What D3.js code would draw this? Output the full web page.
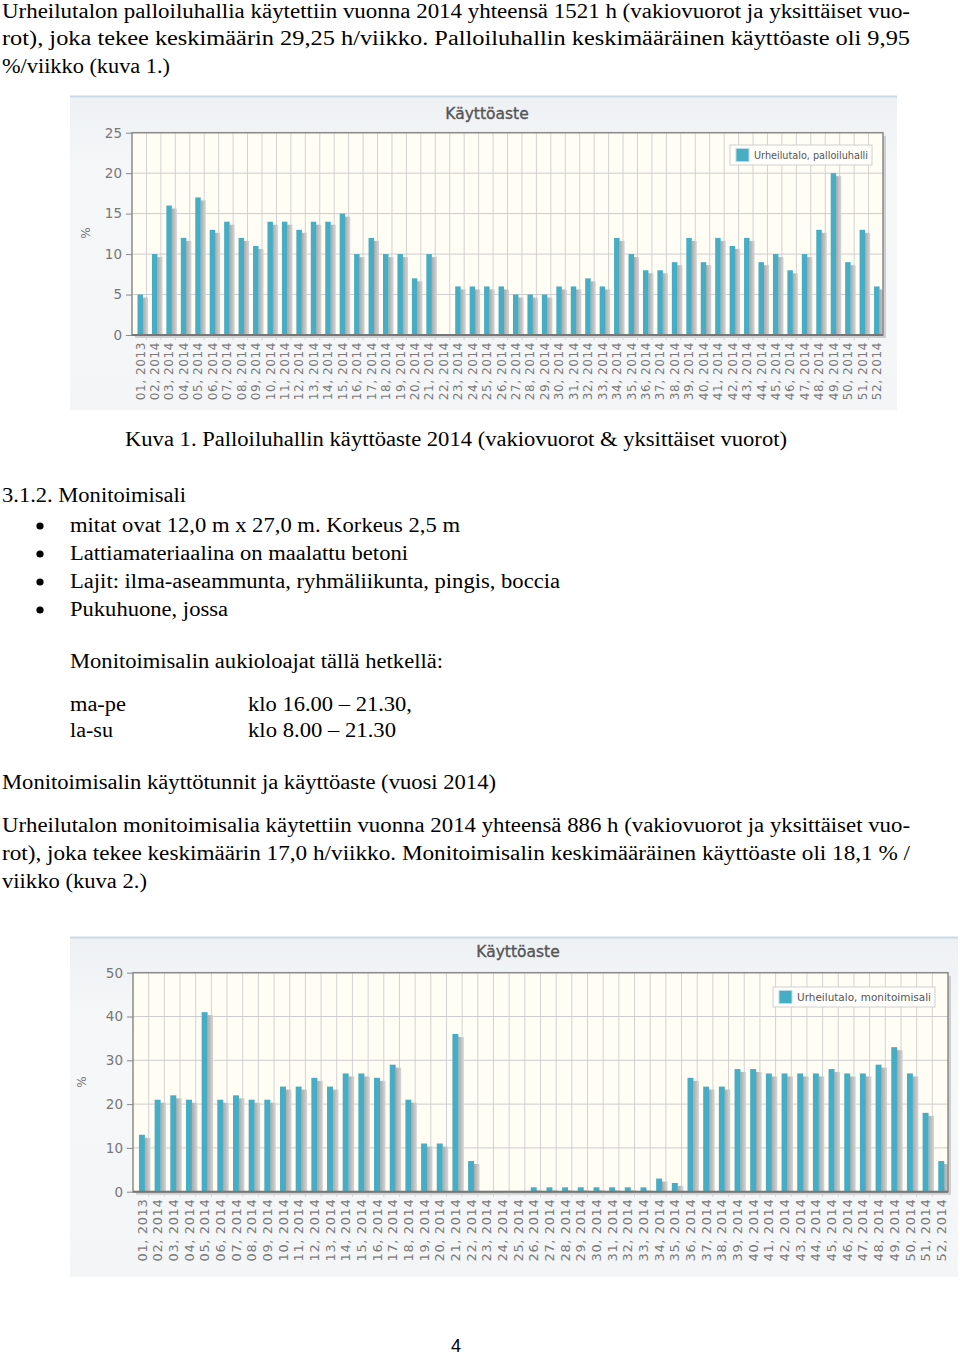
<!DOCTYPE html>
<html>
<head>
<meta charset="utf-8">
<script src="https://cdn.jsdelivr.net/npm/d3@7"></script>
<style>
  body { margin: 0; background: #fff; }
  svg { display: block; }
</style>
</head>
<body>
<div id="page"></div>
<script>
// week labels shared by both charts
let weekLabels = ["01, 2013", "02, 2014", "03, 2014", "04, 2014", "05, 2014", "06, 2014", "07, 2014",
	"08, 2014", "09, 2014", "10, 2014", "11, 2014", "12, 2014", "13, 2014", "14, 2014", "15, 2014",
	"16, 2014", "17, 2014", "18, 2014", "19, 2014", "20, 2014", "21, 2014", "22, 2014", "23, 2014",
	"24, 2014", "25, 2014", "26, 2014", "27, 2014", "28, 2014", "29, 2014", "30, 2014", "31, 2014",
	"32, 2014", "33, 2014", "34, 2014", "35, 2014", "36, 2014", "37, 2014", "38, 2014", "39, 2014",
	"40, 2014", "41, 2014", "42, 2014", "43, 2014", "44, 2014", "45, 2014", "46, 2014", "47, 2014",
	"48, 2014", "49, 2014", "50, 2014", "51, 2014", "52, 2014"];

// käyttöaste % per week
let palloiluhalli = [5, 10, 16, 12, 17, 13, 14, 12, 11, 14, 14, 13, 14, 14, 15, 10, 12, 10, 10, 7,
	10, 0, 6, 6, 6, 6, 5, 5, 5, 6, 6, 7, 6, 12, 10, 8, 8, 9, 12, 9, 12, 11, 12, 9, 10, 8, 10, 13, 20, 9, 13, 6];
let monitoimisali = [13, 21, 22, 21, 41, 21, 22, 21, 21, 24, 24, 26, 24, 27, 27, 26, 29, 21, 11, 11,
	36, 7, 0, 0, 0, 1, 1, 1, 1, 1, 1, 1, 1, 3, 2, 26, 24, 24, 28, 28, 27, 27, 27, 27, 28, 27, 27, 29, 33, 27, 18, 7];

let ticks1 = [0, 5, 10, 15, 20, 25];
let ticks2 = [0, 10, 20, 30, 40, 50];

let chartTitle = "Käyttöaste";
let legend1 = "Urheilutalo, palloiluhalli";
let legend2 = "Urheilutalo, monitoimisali";

// document text: [text, x, baseline y, width]
let pageLines = [
	["Urheilutalon palloiluhallia käytettiin vuonna 2014 yhteensä 1521 h (vakiovuorot ja yksittäiset vuo-", 2, 18, 908],
	["rot), joka tekee keskimäärin 29,25 h/viikko. Palloiluhallin keskimääräinen käyttöaste oli 9,95", 2, 45, 908],
	["%/viikko (kuva 1.)", 2, 73, 168],
	["Kuva 1. Palloiluhallin käyttöaste 2014 (vakiovuorot & yksittäiset vuorot)", 125, 446, 662],
	["3.1.2. Monitoimisali", 2, 502, 184],
	["mitat ovat 12,0 m x 27,0 m. Korkeus 2,5 m", 70, 532, 390],
	["Lattiamateriaalina on maalattu betoni", 70, 560, 338],
	["Lajit: ilma-aseammunta, ryhmäliikunta, pingis, boccia", 70, 588, 490],
	["Pukuhuone, jossa", 70, 616, 158],
	["Monitoimisalin aukioloajat tällä hetkellä:", 70, 668, 373],
	["ma-pe", 70, 711, 56],
	["klo 16.00 – 21.30,", 248, 711, 164],
	["la-su", 70, 737, 43],
	["klo 8.00 – 21.30", 248, 737, 148],
	["Monitoimisalin käyttötunnit ja käyttöaste (vuosi 2014)", 2, 789, 494],
	["Urheilutalon monitoimisalia käytettiin vuonna 2014 yhteensä 886 h (vakiovuorot ja yksittäiset vuo-", 2, 832, 908],
	["rot), joka tekee keskimäärin 17,0 h/viikko. Monitoimisalin keskimääräinen käyttöaste oli 18,1 % /", 2, 860, 908],
	["viikko (kuva 2.)", 2, 888, 145]
];
let bulletRows = [532, 560, 588, 616];
let pageNumber = "4";

let svg = d3.select("#page").append("svg")
	.attr("width", 960)
	.attr("height", 1355);

svg.append("rect").attr("width", 960).attr("height", 1355).attr("fill", "#fff");

let defs = svg.append("defs");
let bgGrad = defs.append("linearGradient").attr("id", "bg").attr("x1", 0).attr("y1", 0).attr("x2", 0).attr("y2", 1);
bgGrad.append("stop").attr("offset", "0").attr("stop-color", "#eef1f4");
bgGrad.append("stop").attr("offset", "0.25").attr("stop-color", "#f5f7f8");
bgGrad.append("stop").attr("offset", "1").attr("stop-color", "#f3f5f7");
let shGrad = defs.append("linearGradient").attr("id", "shadow").attr("x1", 0).attr("y1", 0).attr("x2", 1).attr("y2", 0);
shGrad.append("stop").attr("offset", "0").attr("stop-color", "#a9a9a9");
shGrad.append("stop").attr("offset", "1").attr("stop-color", "#d6d6d6");

//page text
svg.append("g").selectAll("text")
	.data(pageLines)
	.enter()
	.append("text")
	.attr("x", d => d[1])
	.attr("y", d => d[2])
	.attr("textLength", d => d[3])
	.attr("lengthAdjust", "spacingAndGlyphs")
	.attr("font-family", "Liberation Serif")
	.attr("font-size", 20.5)
	.attr("fill", "#000")
	.text(d => d[0]);

svg.append("g").selectAll("circle")
	.data(bulletRows)
	.enter()
	.append("circle")
	.attr("cx", 40)
	.attr("cy", d => d - 6)
	.attr("r", 3.6)
	.attr("fill", "#000");

svg.append("text")
	.attr("x", 456)
	.attr("y", 1346)
	.attr("dy", "0.35em")
	.attr("text-anchor", "middle")
	.attr("font-family", "Liberation Sans")
	.attr("font-size", 18)
	.text(pageNumber);

let drawChart = function(cfg) {
	let g = svg.append("g");
	let font = "DejaVu Sans";

	//image background
	g.append("rect")
		.attr("x", cfg.img[0]).attr("y", cfg.img[1])
		.attr("width", cfg.img[2]).attr("height", cfg.img[3])
		.attr("fill", "url(#bg)");
	g.append("line")
		.attr("x1", cfg.img[0]).attr("x2", cfg.img[0] + cfg.img[2])
		.attr("y1", cfg.img[1] + 0.5).attr("y2", cfg.img[1] + 0.5)
		.attr("stroke", "#cbd9e6").attr("stroke-width", 2);

	let x = d3.scaleBand().domain(weekLabels).range([cfg.left, cfg.right]);
	let y = d3.scaleLinear().domain([0, cfg.ticks[cfg.ticks.length - 1]]).range([cfg.bottom, cfg.top]);
	let bw = x.bandwidth();

	//plot shadow
	g.append("rect")
		.attr("x", cfg.left + 3).attr("y", cfg.top + 3)
		.attr("width", cfg.right - cfg.left).attr("height", cfg.bottom - cfg.top)
		.attr("fill", "#cfcfcf");
	g.append("rect")
		.attr("x", cfg.left).attr("y", cfg.top)
		.attr("width", cfg.right - cfg.left).attr("height", cfg.bottom - cfg.top)
		.attr("fill", "#fffdf4");

	//grid
	g.append("g").selectAll("line")
		.data(weekLabels.slice(1))
		.enter()
		.append("line")
		.attr("x1", d => x(d)).attr("x2", d => x(d))
		.attr("y1", cfg.top).attr("y2", cfg.bottom + 5)
		.attr("stroke", "#d2d2d2").attr("stroke-width", 1);
	g.append("g").selectAll("line")
		.data(cfg.ticks.slice(1))
		.enter()
		.append("line")
		.attr("x1", cfg.left).attr("x2", cfg.right)
		.attr("y1", d => y(d)).attr("y2", d => y(d))
		.attr("stroke", "#cdcdcd").attr("stroke-width", 1);

	//bars with shadows
	let rows = weekLabels.map((w, i) => ({ week: w, value: cfg.values[i] })).filter(d => d.value > 0);
	g.append("g").selectAll("rect")
		.data(rows)
		.enter()
		.append("rect")
		.attr("x", d => x(d.week) + bw * 0.38 + bw * 0.37)
		.attr("y", d => Math.min(y(d.value) + 3, cfg.bottom))
		.attr("width", bw * 0.36)
		.attr("height", d => Math.max(cfg.bottom - y(d.value) - 3, 0))
		.attr("fill", "url(#shadow)");
	g.append("g").selectAll("rect")
		.data(rows)
		.enter()
		.append("rect")
		.attr("x", d => x(d.week) + bw * 0.38)
		.attr("y", d => y(d.value))
		.attr("width", bw * 0.38)
		.attr("height", d => cfg.bottom - y(d.value))
		.attr("fill", "#46adc4");

	//frame
	g.append("rect")
		.attr("x", cfg.left).attr("y", cfg.top)
		.attr("width", cfg.right - cfg.left).attr("height", cfg.bottom - cfg.top)
		.attr("fill", "none").attr("stroke", "#8a8a8a").attr("stroke-width", 1.5);
	g.append("line")
		.attr("x1", cfg.left).attr("x2", cfg.right)
		.attr("y1", cfg.bottom).attr("y2", cfg.bottom)
		.attr("stroke", "#777").attr("stroke-width", 2);

	//y axis
	let yAxis = g.append("g")
		.attr("transform", `translate(${cfg.left}, 0)`)
		.call(d3.axisLeft(y).tickValues(cfg.ticks).tickSize(6).tickPadding(4));
	yAxis.select(".domain").remove();
	yAxis.selectAll("line").attr("stroke", "#888");
	yAxis.selectAll("text")
		.attr("font-family", font).attr("font-size", 13.5).attr("fill", "#777");

	//x labels
	g.append("g").selectAll("text")
		.data(weekLabels)
		.enter()
		.append("text")
		.attr("transform", d => `translate(${x(d) + bw / 2 + 1}, ${cfg.bottom + 7}) rotate(-90)`)
		.attr("dy", "0.36em")
		.attr("text-anchor", "end")
		.attr("font-family", font)
		.attr("font-size", cfg.labelSize)
		.attr("letter-spacing", 0.6)
		.attr("fill", "#7a7a7a")
		.text(d => d);

	//y title
	g.append("text")
		.attr("transform", `translate(${cfg.yTitle[0]}, ${cfg.yTitle[1]}) rotate(-90)`)
		.attr("text-anchor", "middle")
		.attr("dy", "0.35em")
		.attr("font-family", font).attr("font-size", 12).attr("fill", "#777")
		.text("%");

	//chart title
	g.append("text")
		.attr("x", cfg.title[0]).attr("y", cfg.title[1])
		.attr("text-anchor", "middle")
		.attr("dy", "0.35em")
		.attr("font-family", font).attr("font-size", 15.5)
		.attr("fill", "#555").attr("stroke", "#555").attr("stroke-width", 0.35)
		.text(chartTitle);

	//legend
	let lg = g.append("g").attr("transform", `translate(${cfg.legend[0]}, ${cfg.legend[1]})`);
	lg.append("rect")
		.attr("width", cfg.legend[2]).attr("height", 20)
		.attr("fill", "#fffefa").attr("stroke", "#d0d0d0");
	lg.append("rect")
		.attr("x", 6).attr("y", 3.5).attr("width", 13).attr("height", 13)
		.attr("fill", "#46adc4").attr("stroke", "#b8dde6");
	lg.append("text")
		.attr("x", 24).attr("y", 10).attr("dy", "0.35em")
		.attr("font-family", font).attr("font-size", 11).attr("fill", "#555")
		.attr("textLength", cfg.legend[2] - 28)
		.attr("lengthAdjust", "spacingAndGlyphs")
		.text(cfg.legendText);
};

drawChart({
	img: [70, 96, 827, 314],
	left: 132, right: 883, top: 132.7, bottom: 335,
	ticks: ticks1, values: palloiluhalli,
	title: [487, 114], yTitle: [86, 233],
	legend: [730, 145, 142], legendText: legend1,
	labelSize: 12
});

drawChart({
	img: [70, 937, 888, 340],
	left: 133, right: 948, top: 972.7, bottom: 1191.7,
	ticks: ticks2, values: monitoimisali,
	title: [518, 952], yTitle: [82, 1082],
	legend: [773, 987, 162], legendText: legend2,
	labelSize: 13
});
</script>
</body>
</html>
